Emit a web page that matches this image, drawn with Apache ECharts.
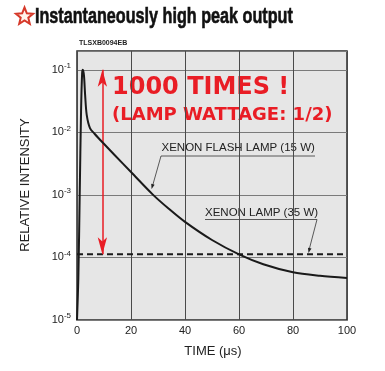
<!DOCTYPE html>
<html>
<head>
<meta charset="utf-8">
<script src="https://cdn.jsdelivr.net/npm/echarts@6/dist/echarts.min.js"></script>
<style>
html,body{margin:0;padding:0;background:#fff;}
#chart{width:385px;height:371px;}
</style>
</head>
<body>
<div id="chart"></div>
<script>
// ---- data ----
const timeUs = [0, 0.5, 1.0, 1.5, 1.9, 2.2, 2.6, 3.0, 3.6, 4.8, 6.5, 9.6, 14, 20, 28, 34, 40, 50, 60, 69, 80, 90, 100];
const flashLamp15W = [1e-5, 4.7e-5, 1e-3, 0.0214, 0.089, 0.1, 0.079, 0.040, 0.019, 0.0117, 0.0095, 0.0068, 0.0043, 0.00232, 0.00102, 0.0006, 0.00037, 0.00019, 0.000112, 0.000078, 0.000058, 0.000051, 0.000047];
const xenonLamp35WLevel = 1.12e-4;
const lampTimeRange = [0, 100];
const peakLevel = 0.1;
const arrowTime = 9.4;
const yExponents = [-5, -4, -3, -2, -1];

const lg = v => Math.log10(v);
const flashData = timeUs.map((t, i) => [t, lg(flashLamp15W[i])]);
const lampData = lampTimeRange.map(t => [t, lg(xenonLamp35WLevel)]);

const chart = echarts.init(document.getElementById('chart'), null, {renderer: 'canvas'});
const RED = '#e91d25';
const FONT = '"Liberation Sans", Arial, sans-serif';

function starPoints(cx, cy, R, r) {
  const pts = [];
  for (let i = 0; i < 10; i++) {
    const a = -Math.PI / 2 + i * Math.PI / 5;
    const rad = i % 2 === 0 ? R : r;
    pts.push([cx + rad * Math.cos(a), cy + rad * Math.sin(a)]);
  }
  return pts;
}

chart.setOption({
  animation: false,
  backgroundColor: '#ffffff',
  grid: {
    left: 77, right: 38, top: 51, bottom: 51,
    show: true, backgroundColor: '#e6e6e6', borderColor: '#2a2a2a', borderWidth: 1.5
  },
  xAxis: {
    type: 'value', min: 0, max: 100, interval: 20,
    axisLine: {show: false}, axisTick: {show: false},
    axisLabel: {color: '#222', fontSize: 11, fontFamily: FONT, margin: 5},
    splitLine: {show: true, lineStyle: {color: '#4a4a4a', width: 1}}
  },
  yAxis: {
    type: 'value', min: -5, max: -0.7, interval: 1,
    axisLine: {show: false}, axisTick: {show: false},
    axisLabel: {
      margin: 6, showMaxLabel: false,
      formatter: v => (Number.isInteger(v) && yExponents.includes(v)) ? '{b|10}{s|' + v + '}' : '',
      rich: {
        b: {fontSize: 11, color: '#222', fontFamily: FONT},
        s: {fontSize: 8, color: '#222', fontFamily: FONT, padding: [0, 0, 8, 0]}
      }
    },
    splitLine: {show: true, lineStyle: {color: '#7a7a7a', width: 1}}
  },
  series: [
    {
      name: 'XENON FLASH LAMP (15 W)', type: 'line', data: flashData,
      showSymbol: false, smooth: 0.3, z: 5,
      lineStyle: {color: '#1a1a1a', width: 2}
    },
    {
      name: 'XENON LAMP (35 W)', type: 'line', data: lampData,
      showSymbol: false, z: 4,
      lineStyle: {color: '#1a1a1a', width: 2, type: [6, 4]},
      markLine: {
        silent: true, symbol: ['arrow', 'arrow'], symbolSize: [7, 17],
        label: {show: false},
        lineStyle: {color: RED, width: 1.5, type: 'solid'},
        data: [[{coord: [arrowTime, lg(peakLevel)]}, {coord: [arrowTime, lg(xenonLamp35WLevel)]}]]
      }
    }
  ],
  graphic: [
    {type: 'polygon', shape: {points: starPoints(24.5, 16.5, 9, 4)}, style: {fill: '#fff3ea', stroke: '#d6392a', lineWidth: 2}},
    {type: 'text', x: 35, y: 16.5, scaleX: 0.735, style: {text: 'Instantaneously high peak output', fill: '#111', font: 'bold 22px "Liberation Sans", Arial, sans-serif', textVerticalAlign: 'middle', stroke: '#111', lineWidth: 0.6}},
    {type: 'text', x: 79, y: 43, style: {text: 'TLSXB0094EB', fill: '#222', font: 'bold 7px "Liberation Sans", Arial, sans-serif', textVerticalAlign: 'middle'}},
    {type: 'text', x: 112, y: 88, style: {text: '1000 TIMES !', fill: RED, font: 'bold 24px "DejaVu Sans", sans-serif', textVerticalAlign: 'middle'}},
    {type: 'text', x: 112, y: 115, style: {text: '(LAMP WATTAGE: 1/2)', fill: RED, font: 'bold 18px "DejaVu Sans", sans-serif', textVerticalAlign: 'middle'}},
    {type: 'text', x: 161.5, y: 148, style: {text: 'XENON FLASH LAMP (15 W)', fill: '#222', font: '11.5px "Liberation Sans", Arial, sans-serif', textVerticalAlign: 'middle'}},
    {type: 'polyline', shape: {points: [[315, 156], [161, 156], [152.5, 186]]}, style: {stroke: '#333', lineWidth: 0.8, fill: null}},
    {type: 'polygon', shape: {points: [[151.6, 189], [154.6, 184.7], [151.2, 183.7]]}, style: {fill: '#222'}},
    {type: 'text', x: 205, y: 212.5, style: {text: 'XENON LAMP (35 W)', fill: '#222', font: '11.5px "Liberation Sans", Arial, sans-serif', textVerticalAlign: 'middle'}},
    {type: 'polyline', shape: {points: [[205, 219.5], [317, 219.5], [309.3, 249]]}, style: {stroke: '#333', lineWidth: 0.8, fill: null}},
    {type: 'polygon', shape: {points: [[308.5, 253], [311.5, 248.6], [308, 247.8]]}, style: {fill: '#222'}},
    {type: 'text', x: 25, y: 185, rotation: Math.PI / 2, style: {text: 'RELATIVE INTENSITY', fill: '#222', font: '13px "Liberation Sans", Arial, sans-serif', textAlign: 'center', textVerticalAlign: 'middle'}},
    {type: 'text', x: 213, y: 351, style: {text: 'TIME (μs)', fill: '#222', font: '13px "Liberation Sans", Arial, sans-serif', textAlign: 'center', textVerticalAlign: 'middle'}}
  ]
});
</script>
</body>
</html>
